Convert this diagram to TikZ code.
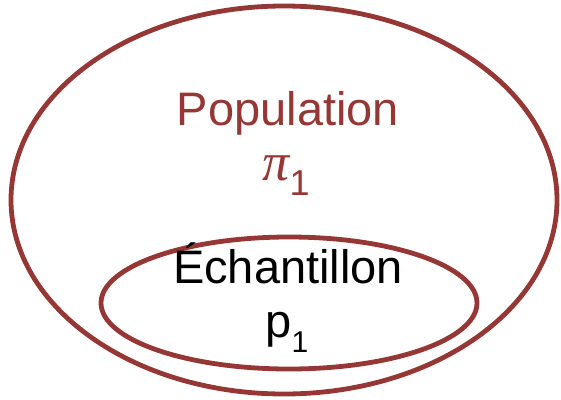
\documentclass[tikz,border=0pt]{standalone}
\usepackage{fontspec}
\setmainfont{Liberation Sans}
\newfontfamily\grk{Liberation Serif}
\definecolor{rim}{HTML}{953735}
\tikzset{
  ring/.style={draw=rim, line width=4.8pt},
  lbl/.style={inner sep=0pt, anchor=base, font=\fontsize{47}{47}\selectfont},
}
\begin{document}
\begin{tikzpicture}[x=1pt,y=-1pt]
\useasboundingbox (0,0) rectangle (561,399);
\draw[ring] (284,200) ellipse [x radius=273, y radius=194];
\draw[ring] (289,303) ellipse [x radius=188, y radius=66];
\node[lbl, text=rim] (pop) at (288,125) {Population};
\node[lbl, text=rim] (pi) at (286,180) {{\grk\itshape\fontsize{54}{54}\selectfont π}\raisebox{-15pt}{\fontsize{36}{36}\selectfont 1}};
\node[lbl] (ech) at (288,283) {Échantillon};
\node[lbl] (p) at (287,337) {p\raisebox{-15pt}{\fontsize{30}{30}\selectfont 1}};
\end{tikzpicture}
\end{document}
